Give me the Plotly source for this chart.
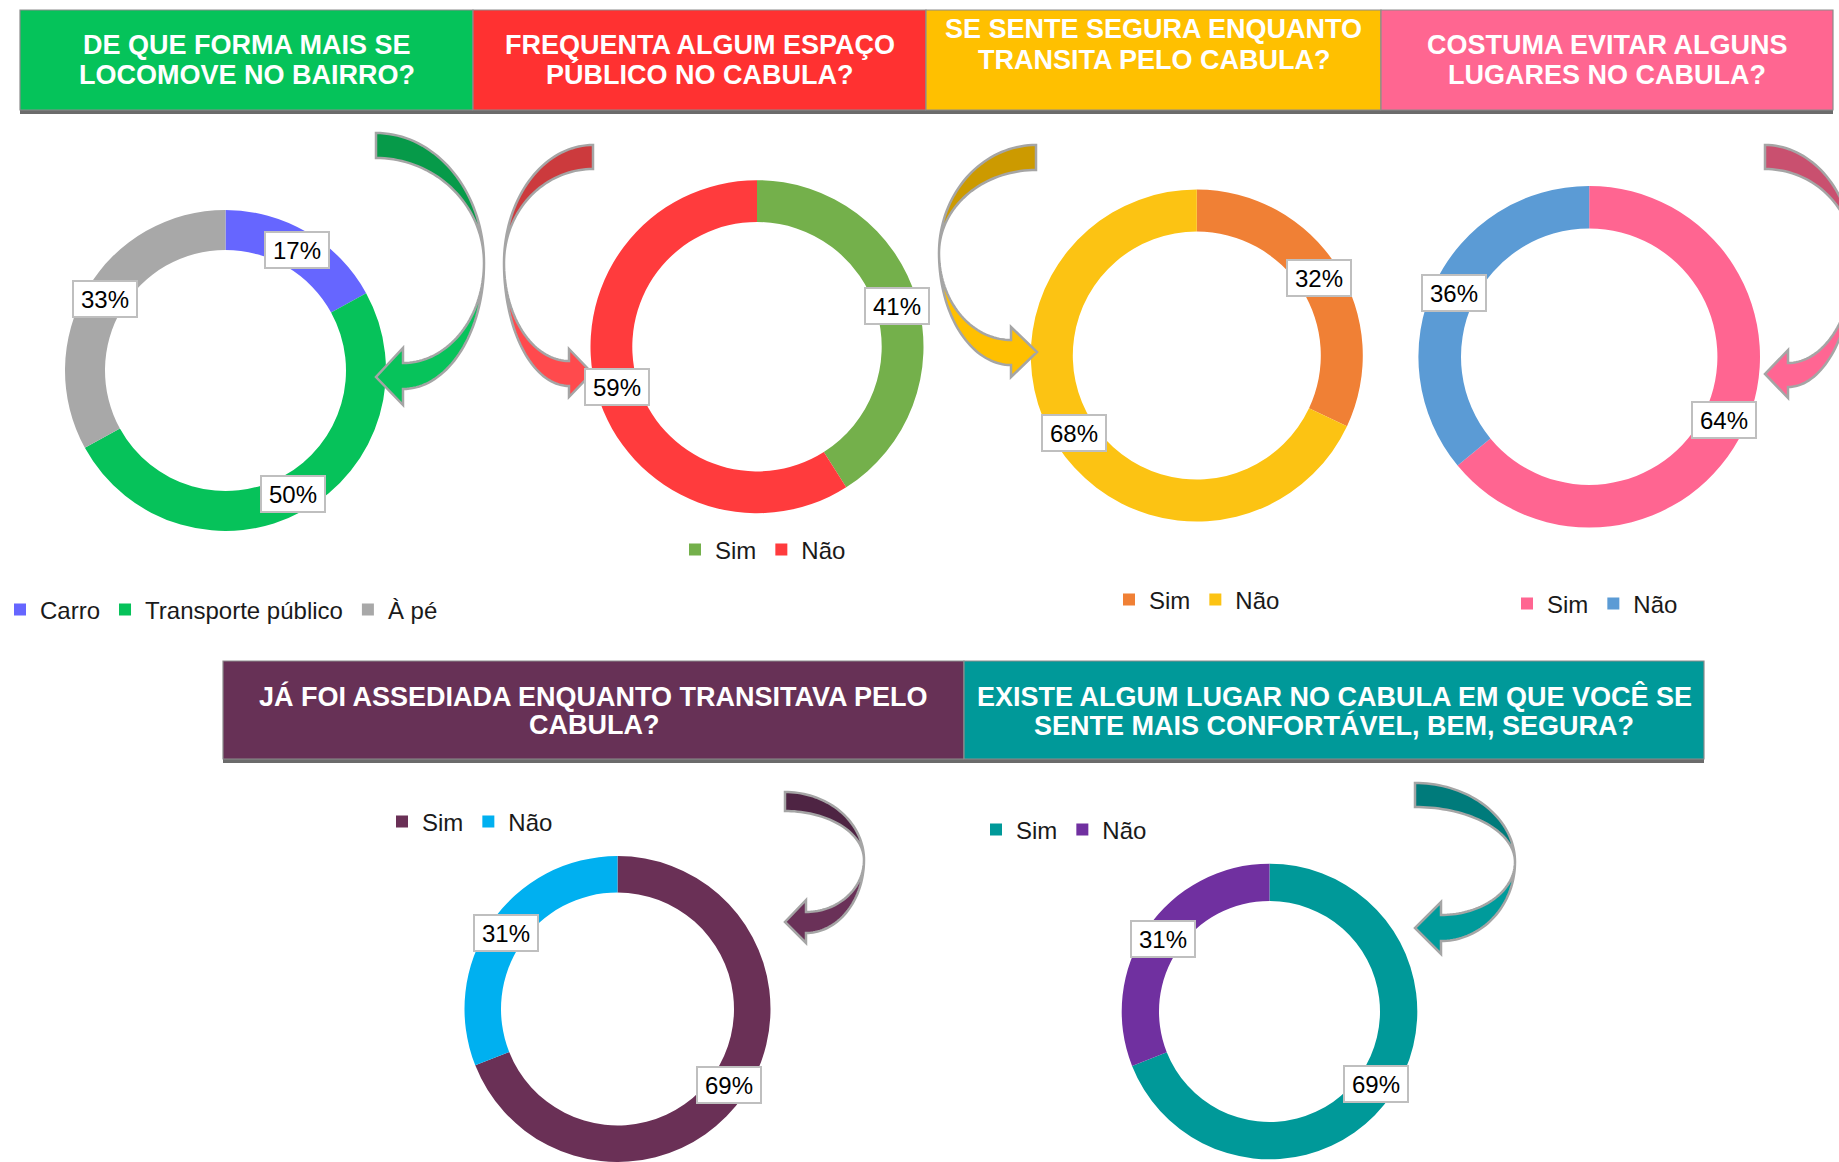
import numpy as np
import plotly.graph_objects as go

W, H = 1839, 1162

# ---------------- data ----------------
q1_labels = ["Carro", "Transporte público", "À pé"]
q1_values = [17, 50, 33]
q2_labels = ["Sim", "Não"]
q2_values = [41, 59]
q3_labels = ["Sim", "Não"]
q3_values = [32, 68]
q4_labels = ["Sim", "Não"]
q4_values = [64, 36]
q5_labels = ["Sim", "Não"]
q5_values = [69, 31]
q6_labels = ["Sim", "Não"]
q6_values = [69, 31]

title1 = ["DE QUE FORMA MAIS SE", "LOCOMOVE NO BAIRRO?"]
title2 = ["FREQUENTA ALGUM ESPAÇO", "PÚBLICO NO CABULA?"]
title3 = ["SE SENTE SEGURA ENQUANTO", "TRANSITA PELO CABULA?"]
title4 = ["COSTUMA EVITAR ALGUNS", "LUGARES NO CABULA?"]
title5 = ["JÁ FOI ASSEDIADA ENQUANTO TRANSITAVA PELO", "CABULA?"]
title6 = ["EXISTE ALGUM LUGAR NO CABULA EM QUE VOCÊ SE", "SENTE MAIS CONFORTÁVEL, BEM, SEGURA?"]

# ---------------- styles / layout ----------------
FONT = "Liberation Sans, Arial, sans-serif"

# leg = (left edge of legend box in px, vertical centre in px)
charts = [
    dict(labels=q1_labels, values=q1_values, colors=["#6666FF", "#06C25A", "#A8A8A8"],
         cx=225.5, cy=370.5, r=160.5, rin=120.5, leg=(0, 610)),
    dict(labels=q2_labels, values=q2_values, colors=["#74B04B", "#FF3B3D"],
         cx=757, cy=346.7, r=166.5, rin=124.7, leg=(675, 550)),
    dict(labels=q3_labels, values=q3_values, colors=["#F08035", "#FCC313"],
         cx=1196.8, cy=355.5, r=166, rin=124, leg=(1109, 600)),
    dict(labels=q4_labels, values=q4_values, colors=["#FF6591", "#5B9BD5"],
         cx=1589.2, cy=356.7, r=170.8, rin=128.2, leg=(1507, 604)),
    dict(labels=q5_labels, values=q5_values, colors=["#6A3056", "#00B0F0"],
         cx=617.5, cy=1009, r=153, rin=116.5, leg=(382, 822)),
    dict(labels=q6_labels, values=q6_values, colors=["#009999", "#7030A0"],
         cx=1269.5, cy=1011.5, r=147.8, rin=110.5, leg=(976, 830)),
]

headers = [
    dict(x0=20, x1=473, y0=10, y1=110, color="#05C35A", lines=title1, ly=(45, 75)),
    dict(x0=473, x1=926, y0=10, y1=110, color="#FF3131", lines=title2, ly=(45, 75)),
    dict(x0=926, x1=1381, y0=10, y1=110, color="#FFC000", lines=title3, ly=(29, 60)),
    dict(x0=1381, x1=1833, y0=10, y1=110, color="#FF6691", lines=title4, ly=(45, 75)),
    dict(x0=223, x1=964, y0=661, y1=759, color="#673156", lines=title5, ly=(696, 725)),
    dict(x0=964, x1=1704, y0=661, y1=759, color="#009999", lines=title6, ly=(696, 725)),
]

arrows = [
    dict(p=(376, 133, 158, 484, 263, 403, 363, 389, 348, 405, 376, 377), top="#069A49", bot="#07C35B"),
    dict(p=(593, 145, 169, 504, 263, 569, 361, 386, 349, 397, 592, 373), top="#CC3A3D", bot="#FF4A4D"),
    dict(p=(1036, 145, 170, 939, 253, 1011, 340, 365, 327, 377, 1037, 352), top="#CC9A00", bot="#FFC000"),
    dict(p=(1765, 145, 169, 1854, 258, 1788, 363, 387, 350, 398, 1765, 374), top="#C9506F", bot="#FF6693"),
    dict(p=(785, 792, 811, 864, 860, 806, 912, 933, 900, 943, 785, 922), top="#4E2443", bot="#6A3158"),
    dict(p=(1415, 783, 807, 1515, 862, 1441, 915, 941, 902, 954, 1415, 928), top="#007B7B", bot="#009B9B"),
]


def px(x):
    return x / W


def py(y):
    return 1 - y / H


def clamp(v):
    return min(1.0, max(0.0, v))


def to_path(pts):
    return "M " + " L ".join(f"{px(x):.5f},{py(y):.5f}" for x, y in pts) + " Z"


def arrow_paths(xe, yo, yi, xx, yx, xb, bu, bl, hu, hl, xt, yt):
    t = np.linspace(0, np.pi / 2, 40)
    outer = [(xe + (xx - xe) * np.sin(a), yx - (yx - yo) * np.cos(a)) for a in t]
    inner = [(xe + (xx - xe) * np.sin(a), yx - (yx - yi) * np.cos(a)) for a in t[::-1]]
    upper = outer + inner
    up_edge = [(xb + (xx - xb) * np.cos(a), yx + (bu - yx) * np.sin(a)) for a in t]
    lo_edge = [(xb + (xx - xb) * np.cos(a), yx + (bl - yx) * np.sin(a)) for a in t[::-1]]
    lower = up_edge + [(xb, hu), (xt, yt), (xb, hl)] + lo_edge
    return to_path(lower), to_path(upper)


fig = go.Figure()
shapes = []
annotations = []
layout_legends = {}

for i, c in enumerate(charts):
    legname = "legend" if i == 0 else f"legend{i + 1}"
    fig.add_trace(go.Pie(
        labels=c["labels"], values=c["values"],
        marker=dict(colors=c["colors"], line=dict(width=0)),
        hole=c["rin"] / c["r"], sort=False, direction="clockwise", rotation=0,
        textinfo="none", hoverinfo="label+percent",
        domain=dict(x=[clamp(px(c["cx"] - c["r"])), clamp(px(c["cx"] + c["r"]))],
                    y=[clamp(py(c["cy"] + c["r"])), clamp(py(c["cy"] - c["r"]))]),
        legend=legname, legendgroup=f"grp{i + 1}", showlegend=True,
    ))
    lx, ly = c["leg"]
    layout_legends[legname] = dict(
        orientation="h", x=px(lx), y=py(ly), xanchor="left", yanchor="middle",
        font=dict(family=FONT, size=24, color="#1A1A1A"), bgcolor="rgba(0,0,0,0)",
        traceorder="normal", itemclick=False, itemdoubleclick=False,
    )
    # data labels (computed from the values)
    total = float(sum(c["values"]))
    rm = (c["r"] + c["rin"]) / 2
    start = 0.0
    for v in c["values"]:
        mid = (start + v / 2) / total
        ang = 2 * np.pi * mid
        lx_ = c["cx"] + rm * np.sin(ang)
        ly_ = c["cy"] - rm * np.cos(ang)
        annotations.append(dict(
            x=px(lx_), y=py(ly_), xref="paper", yref="paper", text=f"{v}%",
            showarrow=False, xanchor="center", yanchor="middle",
            font=dict(family=FONT, size=24, color="#000000"),
            bgcolor="#FFFFFF", bordercolor="#BFBFBF", borderwidth=2, borderpad=4,
            width=54, height=26,
        ))
        start += v

# headers
for h in headers:
    shapes.append(dict(type="rect", xref="paper", yref="paper",
                       x0=px(h["x0"]), x1=px(h["x1"]), y0=py(h["y1"] + 4), y1=py(h["y1"] - 2),
                       fillcolor="#6B6B6B", line=dict(width=0), layer="below"))
    shapes.append(dict(type="rect", xref="paper", yref="paper",
                       x0=px(h["x0"]), x1=px(h["x1"]), y0=py(h["y1"]), y1=py(h["y0"]),
                       fillcolor=h["color"], line=dict(color="#8C8C8C", width=1.2), layer="below"))
    xc = (h["x0"] + h["x1"]) / 2
    for line, yy in zip(h["lines"], h["ly"]):
        annotations.append(dict(
            x=px(xc), y=py(yy), xref="paper", yref="paper", text=line, showarrow=False,
            xanchor="center", yanchor="middle",
            font=dict(family=FONT, size=27, color="#FFFFFF", weight="bold"),
        ))

# curved arrows
for a in arrows:
    lower, upper = arrow_paths(*a["p"])
    shapes.append(dict(type="path", xref="paper", yref="paper", path=lower,
                       fillcolor=a["bot"], line=dict(color="#A5A5A5", width=2.5), layer="above"))
    shapes.append(dict(type="path", xref="paper", yref="paper", path=upper,
                       fillcolor=a["top"], line=dict(color="#A5A5A5", width=2.5), layer="above"))

fig.update_layout(
    width=W, height=H, margin=dict(l=0, r=0, t=0, b=0),
    paper_bgcolor="#FFFFFF", plot_bgcolor="#FFFFFF",
    font=dict(family=FONT),
    shapes=shapes, annotations=annotations,
    **layout_legends,
)

fig.write_html("out.html", config={"displayModeBar": False},
               post_script="document.body.style.margin='0';document.body.style.overflow='hidden';")
